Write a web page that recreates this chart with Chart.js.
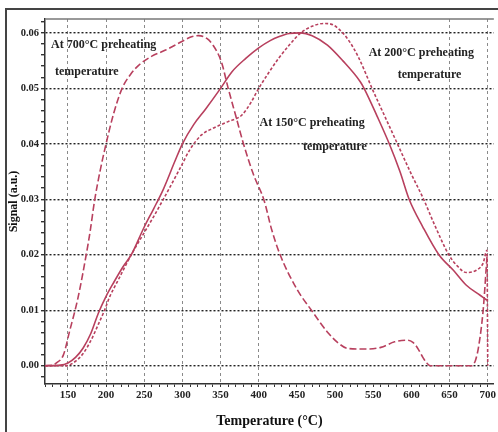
<!DOCTYPE html>
<html>
<head>
<meta charset="utf-8">
<script src="https://cdn.jsdelivr.net/npm/chart.js@4.4.0/dist/chart.umd.min.js"></script>
<style>
  html, body { margin: 0; padding: 0; background: #fff; }
</style>
</head>
<body>
<canvas id="glowChart" width="498" height="432"></canvas>
<script>
// glow curves: temperature (°C) vs signal (a.u.)
const temp700 = [120,130,135,144,152,163,174,179,185,192,200,210,221,232,243,260,278,300,312,321,332,340,351,360,370,380,393,407,417,428,450,469,491,504,517,540,560,578,595,602,608,615,620,625,679,684,688,694,699];
const sig700  = [0,0.0001,0.0005,0.0019,0.0061,0.0121,0.0200,0.0241,0.0298,0.0350,0.0400,0.0455,0.0500,0.0525,0.0542,0.0558,0.0569,0.0585,0.0593,0.0595,0.0590,0.0578,0.0548,0.0500,0.0450,0.0400,0.0345,0.0298,0.0245,0.0200,0.0138,0.0100,0.0059,0.0041,0.0031,0.0030,0.0033,0.0043,0.0046,0.0042,0.0032,0.0015,0.0005,0,0,0.0010,0.0034,0.0100,0.0196];

const temp200 = [120,148,160,170,180,190,198,205,215,233,250,262,275,297,310,325,340,360,378,390,400,413,426,440,455,470,486,498,510,520,531,550,565,580,600,616,630,649,660,672,685,694,699,700];
const sig200  = [0,0,0.0008,0.0022,0.0045,0.0075,0.0100,0.0125,0.0152,0.0200,0.0240,0.0268,0.0300,0.0356,0.0390,0.0416,0.0428,0.0440,0.0452,0.0475,0.0500,0.0528,0.0554,0.0578,0.0600,0.0612,0.0617,0.0614,0.0600,0.0582,0.0555,0.0495,0.0450,0.0405,0.0345,0.0300,0.0255,0.0200,0.0180,0.0168,0.0172,0.0185,0.0208,0];

const temp150 = [120,140,150,160,170,180,190,200,210,222,233,250,262,275,290,300,315,330,350,365,383,400,415,426,440,455,470,490,510,533,538,555,571,585,597,615,636,655,672,690,699];
const sig150  = [0,0.0001,0.0005,0.0015,0.0032,0.0058,0.0095,0.0125,0.0150,0.0178,0.0200,0.0250,0.0282,0.0318,0.0368,0.0400,0.0435,0.0462,0.0500,0.0530,0.0554,0.0573,0.0586,0.0593,0.0599,0.0600,0.0595,0.0578,0.0550,0.0512,0.0500,0.0450,0.0400,0.0350,0.0300,0.0250,0.0200,0.0172,0.0145,0.0127,0.0118];

// axis ticks (minor every 10 °C / 0.002, labels on majors only)
const xTickValues = [];
for (let t = 120; t <= 700; t += 10) xTickValues.push(t);
const yTickMilli = [];
for (let k = -2; k <= 62; k += 2) yTickMilli.push(k);

// curve annotations (data coordinates)
const noteText = ['At 700°C preheating', 'temperature', 'At 200°C preheating', 'temperature', 'At 150°C preheating', 'temperature'];
const noteT = [128, 133, 544, 582, 401, 458];
const noteS = [0.0578, 0.0529, 0.0563, 0.0524, 0.0437, 0.0394];

const toPoints = (xs, ys) => xs.map((x, i) => ({x: x, y: ys[i]}));
const lineRed = '#b8405e';
const serif = 'Liberation Serif';

const framePlugin = {
  id: 'frame',
  beforeDraw(chart) {
    const ctx = chart.ctx;
    ctx.save();
    ctx.fillStyle = '#fff';
    ctx.fillRect(0, 0, chart.width, chart.height);
    ctx.strokeStyle = '#444';
    ctx.lineWidth = 2;
    ctx.beginPath();
    ctx.moveTo(6, chart.height);
    ctx.lineTo(6, 9);
    ctx.lineTo(chart.width, 9);
    ctx.stroke();
    ctx.restore();
  },
  afterDraw(chart) {
    const ctx = chart.ctx;
    const a = chart.chartArea;
    ctx.save();
    ctx.strokeStyle = '#777';
    ctx.lineWidth = 1.5;
    ctx.beginPath();
    ctx.moveTo(a.left, a.top);
    ctx.lineTo(a.right, a.top);
    ctx.stroke();

    const xs = chart.scales.x, ys = chart.scales.y;
    ctx.fillStyle = '#222';
    ctx.font = 'bold 12px "' + serif + '"';
    ctx.textAlign = 'left';
    ctx.textBaseline = 'middle';
    noteText.forEach((txt, i) => {
      ctx.fillText(txt, xs.getPixelForValue(noteT[i]), ys.getPixelForValue(noteS[i]));
    });
    ctx.restore();
  }
};

new Chart(document.getElementById('glowChart'), {
  type: 'line',
  data: {
    datasets: [
      {label: 'At 700°C preheating temperature', data: toPoints(temp700, sig700), borderDash: [7, 3]},
      {label: 'At 200°C preheating temperature', data: toPoints(temp200, sig200), borderDash: [3, 2]},
      {label: 'At 150°C preheating temperature', data: toPoints(temp150, sig150)}
    ].map(ds => Object.assign({
      borderColor: lineRed,
      borderWidth: 1.6,
      pointRadius: 0,
      fill: false,
      cubicInterpolationMode: 'monotone'
    }, ds))
  },
  options: {
    responsive: false,
    animation: false,
    devicePixelRatio: 1,
    layout: {padding: {top: 19, right: 1, left: 0, bottom: 0}},
    plugins: {legend: {display: false}, tooltip: {enabled: false}},
    scales: {
      x: {
        type: 'linear',
        min: 120,
        max: 708,
        afterBuildTicks: s => { s.ticks = xTickValues.map(v => ({value: v})); },
        afterFit: s => { s.height = 48; },
        ticks: {
          autoSkip: false,
          maxRotation: 0,
          padding: 2,
          color: '#222',
          font: {family: serif, size: 11, weight: 'bold'},
          callback: v => (v % 50 === 0 && v >= 150) ? String(v) : ''
        },
        grid: {
          color: c => {
            const v = c.tick ? c.tick.value : 0;
            return (v % 50 === 0 && v >= 150 && (v <= 400 || v >= 650)) ? '#8a8a8a' : 'rgba(0,0,0,0)';
          },
          lineWidth: 1,
          tickColor: '#333',
          tickLength: 3
        },
        border: {color: '#333', width: 1.5, dash: [3, 3]},
        title: {
          display: true,
          text: 'Temperature (°C)',
          color: '#111',
          font: {family: serif, size: 14, weight: 'bold'},
          padding: {top: 0, bottom: 2}
        }
      },
      y: {
        min: -0.0033,
        max: 0.0625,
        afterBuildTicks: s => { s.ticks = yTickMilli.map(k => ({value: k / 1000})); },
        afterFit: s => { s.width = 45; },
        ticks: {
          autoSkip: false,
          padding: 2,
          color: '#222',
          font: {family: serif, size: 10.5, weight: 'bold'},
          callback: v => {
            const k = Math.round(v * 1000);
            return (k % 10 === 0 && k >= 0) ? (k / 1000).toFixed(2) : '';
          }
        },
        grid: {
          color: c => {
            const k = c.tick ? Math.round(c.tick.value * 1000) : 1;
            return (k % 10 === 0 && k >= 0) ? '#222' : 'rgba(0,0,0,0)';
          },
          lineWidth: 1.4,
          tickColor: '#333',
          tickLength: 4
        },
        border: {color: '#333', width: 1.5, dash: [2, 2]},
        title: {
          display: true,
          text: 'Signal (a.u.)',
          color: '#111',
          font: {family: serif, size: 12, weight: 'bold'},
          padding: {top: 7, bottom: 0}
        }
      }
    }
  },
  plugins: [framePlugin]
});
</script>
</body>
</html>
